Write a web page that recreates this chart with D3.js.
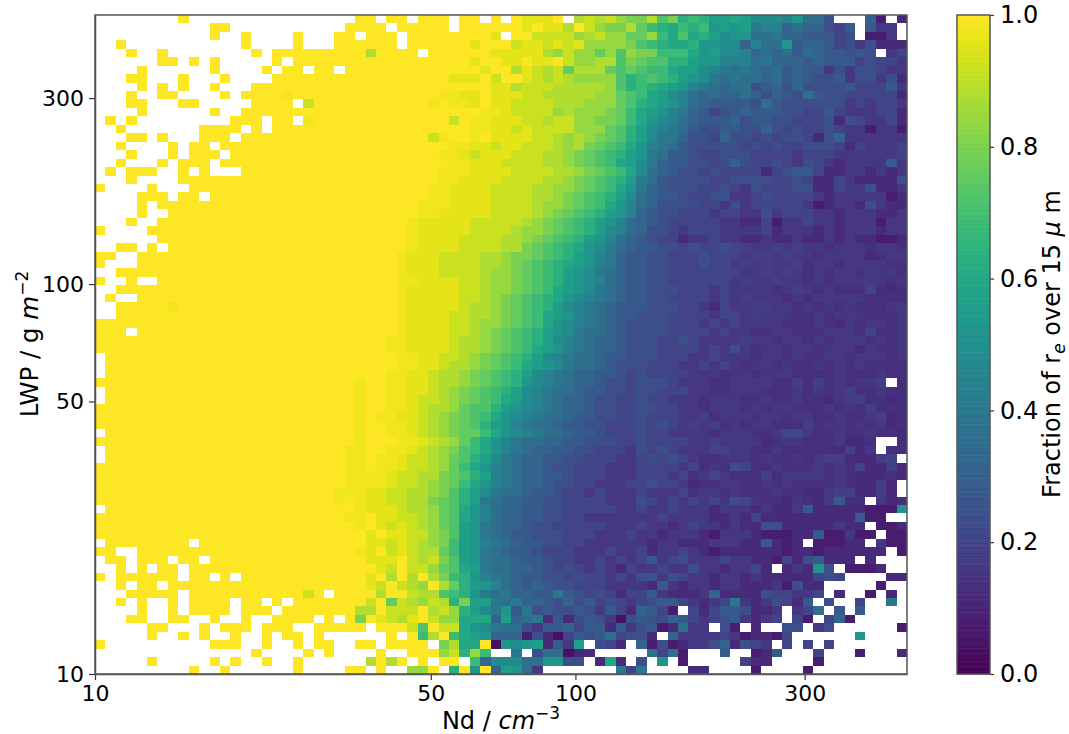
<!DOCTYPE html>
<html lang="en">
<head>
<meta charset="UTF-8">
<title>Fraction of re over 15 um</title>
<script src="https://d3js.org/d3.v7.min.js"></script>
<style>
  html, body { margin: 0; padding: 0; background: #fff; }
  svg { display: block; }
  svg text { font-family: "DejaVu Sans", sans-serif; fill: #000; }
  .domain { stroke: #555; stroke-width: 1.5; }
  .tick line { stroke: #333; stroke-width: 1.2; }
</style>
</head>
<body>
<svg width="1069" height="734"></svg>
<script>
// bin range (both axes are log spaced over the same range)
const nBins = 78;
const axisRange = [10, 490];
const xTicks = [10, 50, 100, 300];
const yTicks = [10, 50, 100, 300];
const cbarTicks = [0, 0.2, 0.4, 0.6, 0.8, 1.0];

// fraction per cell. one letter per cell in steps of 0.02,
// a = 0, A = 0.02, b = 0.04 ... Y = 0.98, z = 1, '.' = no data.
// rows run top (high LWP) to bottom, columns run low to high Nd.
const levels = 'aAbBcCdDeEfFgGhHiIjJkKlLmMnNoOpPqQrRsStTuUvVwWxXyYz';
const fractionRows = [
  "........z................z z.zz.zzz.zz.z.zyyyz.wxwxvu uwsuqrqoopommmlnjjg...ic.d",
  "...........zz...........zz zz.zzzzz.zzzzzzyzyywzxvuuw trqprqrnonokllijiigfh.hee.",
  "...........z..z....z...zz. zzz.zzzzzzzzy.zzxxxxvwxvvt tvrpspqomnnjjkiihhhfg.cce.",
  "..z...........z....z...zzz zzz.zzzzzzyzzzxyyxyxyvvvvu srqppqnnmmiljjnhiihfgegddd",
  "...z..z........z.zzzzzzzzz wzzzz.zzzzzzyyyyywvxvvtvsv uurrrpnommlijijhjihhghg.ef",
  "......zz.z.z.....z.zzzzzzz zzzzzzzzzzyzzyyzyyzxvvwwsu tssqqonnllljkiiihihhhfgffe",
  "....z......z....z.zz.zz.zz zzzzzzzzzzzyzzwyxwxtwwwtst srrpoomlkjkjijhihhegeggfee",
  "...zz...z...z....zzzzzzzzz zzzzzzzzyyyzxzzyxwxwvvvvsq rsrqonmkjkjjijhihggheggegd",
  "....z.z.z..z...zzzzzzzzzzz zzzzzzzzzzzzyywxxxwwwwwvsq rqponlkjijjghigigggghfffhe",
  "...z..zz....z.zzzzYzzzzzzz zzzzzzzYYyyzyyyxxwwwwwvvts rpomljijiijigihgjhggfffffd",
  "...zz...zz.....zzzz.xzzzzz zzzzzzYzYYyzyyxxxxwwwvvvts qponljihhhhgjhggggggefeffe",
  "....z......z..zzzzzzzzzzzz zzzzzzzzzzzYYyxxxxvwvvvutr ponlkihfghihhhggffhfeeeffd",
  ".z.z.........zzz.zz.Yzzzzz zzzzzzzzxzYYyyyxxwxxvvuutr pnmljihhhighhggfffgdgfeefd",
  "..z.......zzzz.z.zzzzzzzzz zzzzzzzzzzYYyyxyxxxxvvvtsq omlkjhgghhggigfgffgfeeceec",
  "...zz.z...zzz.zzzzzzzzzzzz zzzzzzxYzzYzyyyyxxwvwvutsq omkkiggfiggfgfggfdgieeeeee",
  "..z....z.zz.zzzzzzzzzzzzzz zzzzzzzzYYyyxyyxxxwvwutsrp nlkjhgggggfgfgffgggfdfeeef",
  "...z...z.zzz.zzzzzzzzzzzzz zzzzzzzYYyxyyyxxxwwvutsrqo nkjhhgffgggffffefffeeeeeef",
  "..z...z.zzz.zzzzzzzzzzzzzz zzzzzzzzYYyyyxxxxwwvutsrpo mkihhggfgigffgfegfedeeeehe",
  ".z.zzz..z.z...zzzzzzzzzzzz zzzzzzzYYYyyyyxxxxwwvutsrp mjihggfgffffdfghhfddeedede",
  "...z....zzzzzzzzzzzzzzzzzz zzzzzzzYYyyyyxxxxwwvutsrqo kjhggggffggggffgfddfeddddg",
  "z....z...zzzzzzzzzzzzzzzzz zzzzzzYYyyyyxxxxwwvvutsrpn kihgggffgfegfffggddfeegdde",
  "....zzz.zz.zzzzzzzzzzzzzzz zzzzzzYYyyyyxxxxwwvutsrqom jihhgffggeefgffffedeeeeecd",
  "....z.zzzzzzzzzzzzzzzzzzzz zzzzzYYYyyyyxxxxwvvutsrpnl jiggggffegefffffecdeedgedd",
  "....z..zzzzzzzzzzzzzzzzzzz zzzzzYYyyyyyxxxxwvutsrqonl ihggfffeffeegefffeedeeedde",
  "...z..zzzzzzzzzzzzzzzzzzzz zzzzYyyyyyxxxxxwvutsrqonlj ihgfffffeeddfceefeedeeecee",
  "z....zzzzzzzzzzzzzzzzzzzzz zzzzYyyyyyxxxxwvvutsrqomlj iggfefffeeeefdeeededeeedee",
  "......zzzzzzzzzzzzzzzzzzzz zzzzYyyyyxxxxwwvutsrqonlji hgffdeefeeddeddeddededdccd",
  "..zz.z.zzzzzzzzzzzzzzzzzzz zzzzYyyyyxxxxwwutsrqpnmkji hhggfgffgf EeeEeEeeDe eeDeeD",
  "zz..zzzzzzzzzzzzzzzzzzzzzz zzzYyyyxxxxwwvuutsrqonlkih hggfffgfff eEEeEeeDee eedDee",
  "z...zzzzzzzzzzzzzzzzzzzzzz zzzYyyyxxxxwwvutsrqponlkih hggfffgffe EeEeeEDeeD eeeeDD",
  "..zzzzzzzzzzzzzzzzzzzzzzzz zzzYyyyxxxxwvvutsrqonmkjih hggfffffff eeEeEeDeDe eDeeeD",
  "z..z..zzzzzzzzzzzzzzzzzzzz zzzYYyyyyxxwvvutsrqonmljih hggffffffe EeeEeeDeDe eeeeDe",
  "..zzzzzzzzzzzzzzzzzzzzzzzz zzzYyyyyyxxwvvutsrponmkjih hgggfffefe eeeDeEeDeD DDfDdD",
  ".z..zzzzzzzzzzzzzzzzzzzzzz zzzYyyyyyxxwvutsrqpnmlkjih hggffffefe EeeeDeDeee eeDDDD",
  "..zzzzzYzzzzzzzzzzzzzzzzzz zzzYyyyyyxwwvutsrqomlkjihh hgggffedfe eEEeeDeDeD eDDDee",
  "..zzzzzzzzzzzzzzzzzzzzzzzz zzzYyyyyxxwwvutsrponlkjihh gggffffeff eEeeeDDeDe eeDDDe",
  "zzzzzzzzzzzzzzzzzzzzzzzzzz zzzYyyyyxxwvvutsrpnmlkjihg gggfffefef eeeeDDDeDd eDeeDe",
  "zzz.zzzzzzzzzzzzzzzzzzzzzz zzzYyyyyxxwvutsrqonmkjjihg gggffffefe eDDeeDDDee eDfDDe",
  "zzzzzzzzzzzzzzzzzzzzzzzzzz zzYYyyyyxwwvutsrqomlkjiihg ggffgfeeee EeeDeeDeDe eeDeDe",
  "zzzzzzzzzzzzzzzzzzzzzzzzzz zzYYyyyyxwwvutsrponlkjiihg ggffffefeg eDeeDeeDee edeDDe",
  ".zzzzzzzzzzzzzzzzzzzzzzzzz zzzYYyyxxwvutsrqomlkjjihhg ggfffeefee eDeeDeDDee DeeeDe",
  ".zzzzzzzzzzzzzzzzzzzzzzzzz zzzYYyyxwwvutsrponmkjjihgg gfffeefefe DeeDeDDeDe DeDDDD",
  ".zzzzzzzzzzzzzzzzzzzzzzzzz zzYYyyxwwvutsrqomlkjiihhgf gffffeeeDe eDeeeDDDDe DDDeDD",
  "zzzzzzzzzzzzzzzzzzzzzzzzzY zzYYyyxwwvutsrqnmlkjiihggf gggfeeeDDe eeeDDEDEDe DeeE.D",
  ".zzzzzzzzzzzzzzzzzzzzzzzzY zzYYyyxwvutsrqomlkjjihhggf ggfffeeDDe eeDDDeDeDe EDDeDD",
  ".zzzzzzzzzzzzzzzzzzzzzzzzY zzYYyxxwvutsrpomlkjiihggff gffeeeDeee DDeDDeDDde EEDDdD",
  "zzzzzzzzzzzzzzzzzzzzzzzzzY zzYYyxwwvtssqonmlkjiihggff ggffeeDeee DeDeeDDDeD eDEDDD",
  "zzzzzzzzzzzzzzzzzzzzzzzzzY zYYyyxwvutsrpnmlkjjihhggff gfffeeEDee eDeeDeeDDe DDeEdD",
  "zzzzzzzzzzzzzzzzzzzzzzzzzY zzYYyxwvutsqonlkjjihhggfff gfgfeEeEDe DeeDDDEDee DeDedD",
  ".zzzzzzzzzzzzzzzzzzzzzzzzY zzYYyxwvuttrpnmlkjjihhgfff gffeeeeDee eDDefFeDDe DDeDDd",
  "zzzzzzzzzzzzzzzzzzzzzzzzzY zzzYYyxwvtrpnlkjjiihhgggff gffffeeEee eedDeeDDDe ddD..D",
  ".zzzzzzzzzzzzzzzzzzzzzzzYY zzYYyxwvusrpnlkjiihhggfffe gfgfeeeffe eDDeDDDDDd Ede.DD",
  ".zzzzzzzzzzzzzzzzzzzzzzzYY zYYyxxwvtsqomkjiihhggfffee fgfgfeDDee eDeDDeDeEE dddEf.",
  "zzzzzzzzzzzzzzzzzzzzzzzzYY zYYyxxwvtrpnlkjiihggfffeee ffffefDeDg fDDeDDDeDe DfddEd",
  "zzzzzzzzzzzzzzzzzzzzzzzzYY YYyxxwwutsqolkjiihhgfffeee fffefDefeD DDEDeeeeDe DdddDd",
  "zzzzzzzzzzzzzzzzzzzzzzzzYY YYyxxwvutrpnlkjiihggffeeef fgffedDDee DDeDeDDDDe DddEd.",
  "zzzzzzzzzzzzzzzzzzzzzzzYYY yyxxwwvusqomkjjihhgffefeee feeefDeeDe DDDeDDddeE EddEd.",
  "zzzzzzzzzzzzzzzzzzzzzzzYzY yyxxwwutsqokjiihhggffffeee gfefefefeg feDDdeDdeh DD.edD",
  ".zzzzzzzzzzzzzzzzzzzzzzzzY yyyxwwvtspnljiihhggfffffee feefeeedee ededdehddd ddcccn",
  "zzzzzzzzzzzzzzzzzzzzzzzzYY zyyxxwvtspnljiihhggffeeeee eefeeeedde dfdddddddd dhcc..",
  "zzzzzzzzzzzzzzzzzzzzzzzzzY zyxyxwvtsonkjiihggfffffeee feedefeede ddggddddde dd.ccd",
  "zzzzzzzzzzzzzzzzzzzzzzzzzz yzyyxxvusonkjihhgggfffeeef eedeeedcee edcccddhcc ecc.cc",
  ".zzzzzzzz.zzzzzzzzzzzzzzzz yyxyxwvuronlkjihhggffeeeee edeedddeee ddhdcd.ccc dd.ecc",
  "zz..zzzzzzzzzzzzzzzzzzzzzY yzxyxwwtronkjihhgfffeeefee fdeefedcdd ddddcddcdd dddd.c",
  ".zz.zzz.zz.zzzzzzzzzzzzzzz yyyzxwxusonkjjihhgffeefefe fhefgeeefe eddcfdghdd d.d...",
  "..z.z.zz.zzzzzzzzzzzzzzzzz zyxzxxvtspokjjiihgfgfefedf eefeegeede efd.dedng. cccd..",
  "z.zzzzzz.zz.z.zzzzzzzzzzzz yzwzwzwurqnlkjihhggfgffefe ggegfeedee dedddddfgf ....dd",
  "..z.zz.zzzzzzzzzzzzzzzzzzz yxzxwvzwtqonljihihggfffeee edhedeedee dddecgdd.. ...c..",
  "...zzzzz.zzzzzzzzzzzxz.zzz zwzzxwwsrqnkjkiihhkhgfgfdf fhedddeidd ddgffeef.d ..c.d.",
  "..z.z..z.zzzz.zz.z.zzzzzzz xztxwvxwquookjkiihgighfgfe fghhfedefk edegfdh.g. .f..k.",
  "....z..z.zzzz.zzz.zzzzzzzw wzxxxzwxvqomknhkghgghgehfd ihfc.fdfhh gdde.efj.h .h....",
  "...zz..zz..z..z..zzzz.z.zu zyxwyzxvvpppioijkdhdghgebg hggihfefgh edef.fc.fi c.....",
  ".....zz...z.zzz.zzz..zzzzz .zzzxszxxpnmkjjgehhifhhdhe ghcdjee.gc .d..gg.eg. .....c",
  ".....z..z.z..z..z.zz.z.... ..z.zrwzrponiiicgdbfhghjfg gd.ieeeefe cddcf..... .n....",
  "z..........zzz..z..z.zz..z z.zzzz.uwppzbnmnodheo.gfd. icgcdeegid gfe.f.f.f. ......",
  "...............z....z.z... .z..zzzvxqvr..k.gjjbdd.... .jfjc...h. .cdh...f.. .c...d",
  ".....z.....z.z..z..z...... wzwz.z.zz.rimmmjjnngg.dpd. g.n.c..... fdd....c.. ......",
  ".........z..z......z....zz .z..vvz.qznzionje.......kf k....dd... .c....c... ......"
];
const barLabelParts = ['Fraction of r', 'e', ' over 15 ', 'μ', ' m'];

const svg = d3.select('svg');
const margin = { top: 15, right: 162, bottom: 60, left: 95 };
const width = +svg.attr('width') - margin.left - margin.right;
const height = +svg.attr('height') - margin.top - margin.bottom;
const g = svg.append('g').attr('transform', `translate(${margin.left},${margin.top})`);

const x = d3.scaleLog().domain(axisRange).range([0, width]);
const y = d3.scaleLog().domain(axisRange).range([height, 0]);
const colour = d3.scaleSequential(d3.interpolateViridis).domain([0, 1]);
const letter = d3.scaleLinear().domain([0, levels.length - 1]).range([0, 1]);

// bin edges in data units
const edges = d3.range(nBins + 1).map(i => axisRange[0] * Math.pow(axisRange[1] / axisRange[0], i / nBins));

const cells = [];
fractionRows.forEach((row, r) => {
  row.replace(/ /g, '').split('').forEach((ch, c) => {
    if (ch !== '.') cells.push({ r, c, v: letter(levels.indexOf(ch)) });
  });
});

g.selectAll('.cell')
  .data(cells)
  .enter().append('rect')
  .attr('class', 'cell')
  .attr('x', d => x(edges[d.c]))
  .attr('width', d => x(edges[d.c + 1]) - x(edges[d.c]))
  .attr('y', d => y(edges[nBins - d.r]))
  .attr('height', d => y(edges[nBins - d.r - 1]) - y(edges[nBins - d.r]))
  .attr('fill', d => colour(d.v))
  .attr('shape-rendering', 'crispEdges');

g.append('g')
  .attr('class', 'x axis')
  .attr('transform', `translate(0,${height})`)
  .call(d3.axisBottom(x).tickValues(xTicks).tickFormat(d3.format('d')).tickSizeInner(6).tickSizeOuter(0).tickPadding(5))
  .selectAll('text').style('font-size', '22px');

g.append('g')
  .attr('class', 'y axis')
  .call(d3.axisLeft(y).tickValues(yTicks).tickFormat(d3.format('d')).tickSizeInner(6).tickSizeOuter(0).tickPadding(5))
  .selectAll('text').style('font-size', '22px');

// box
g.append('path')
  .attr('class', 'domain')
  .attr('fill', 'none')
  .attr('d', `M0,0H${width}V${height}H0Z`);

// axis titles
const xTitle = svg.append('text')
  .attr('x', 501).attr('y', 729)
  .attr('text-anchor', 'middle')
  .style('font-size', '24px');
xTitle.append('tspan').text('Nd / ');
xTitle.append('tspan').style('font-style', 'italic').text('cm');
xTitle.append('tspan').attr('dy', -10).style('font-size', '17px').text('−3');

const yTitle = svg.append('text')
  .attr('transform', 'translate(38,344) rotate(-90)')
  .attr('text-anchor', 'middle')
  .style('font-size', '24.5px');
yTitle.append('tspan').text('LWP / g ');
yTitle.append('tspan').style('font-style', 'italic').text('m');
yTitle.append('tspan').attr('dy', -10).style('font-size', '17px').text('−2');

// colour bar
const bar = svg.append('g').attr('transform', `translate(957,${margin.top})`);
const barWidth = 33;
const barScale = d3.scaleLinear().domain([0, 1]).range([height, 0]);
const barSteps = d3.range(256).map(i => i / 256);

bar.selectAll('.step')
  .data(barSteps)
  .enter().append('rect')
  .attr('class', 'step')
  .attr('x', 0)
  .attr('width', barWidth)
  .attr('y', d => barScale(d + 1 / 256))
  .attr('height', d => barScale(d) - barScale(d + 1 / 256) + 0.5)
  .attr('fill', d => colour(d + 0.5 / 256));

bar.append('g')
  .attr('transform', `translate(${barWidth},0)`)
  .call(d3.axisRight(barScale).tickValues(cbarTicks).tickFormat(d3.format('.1f')).tickSizeInner(4).tickSizeOuter(0).tickPadding(6))
  .call(a => a.select('.domain').remove())
  .selectAll('text').style('font-size', '24px');

bar.append('rect')
  .attr('class', 'domain')
  .attr('fill', 'none')
  .attr('width', barWidth)
  .attr('height', height);

const barTitle = svg.append('text')
  .attr('transform', 'translate(1060,344) rotate(-90)')
  .attr('text-anchor', 'middle')
  .style('font-size', '24px');
barTitle.append('tspan').text(barLabelParts[0]);
barTitle.append('tspan').attr('dy', 5).style('font-size', '17px').style('font-style', 'italic').text(barLabelParts[1]);
barTitle.append('tspan').attr('dy', -5).text(barLabelParts[2]);
barTitle.append('tspan').style('font-style', 'italic').text(barLabelParts[3]);
barTitle.append('tspan').text(barLabelParts[4]);
</script>
</body>
</html>
